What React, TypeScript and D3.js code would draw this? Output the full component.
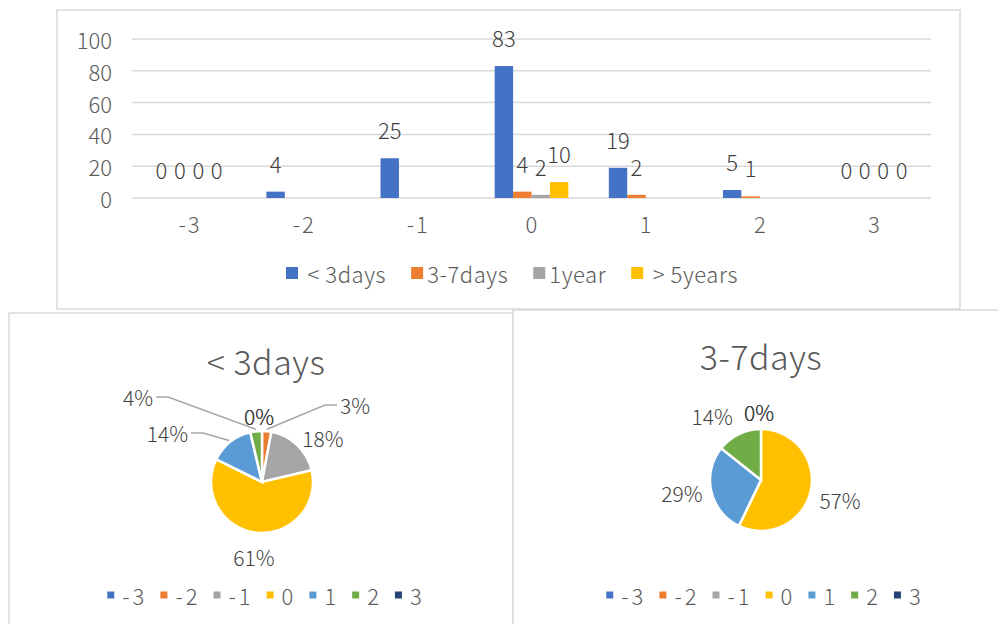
import * as d3 from 'd3'
import React, { useRef, useEffect } from 'react'

const categories = ['-3', '-2', '-1', '0', '1', '2', '3']
const seriesNames = [' < 3days', '3-7days', '1year', ' > 5years']
const lessThan3Days = [0, 4, 25, 83, 19, 5, 0]
const days3To7 = [0, null, null, 4, 2, 1, 0]
const oneYear = [0, null, null, 2, null, null, 0]
const over5Years = [0, null, null, 10, null, null, 0]
const yTicks = [0, 20, 40, 60, 80, 100]

const barColors = ['#4472C4', '#ED7D31', '#A5A5A5', '#FFC000']
const pieColors = ['#4472C4', '#ED7D31', '#A5A5A5', '#FFC000', '#5B9BD5', '#70AD47', '#264478']

const FONT = "'Noto Sans CJK SC', 'Noto Sans', sans-serif"
const GRID = '#d9d9d9'
const AXIS_TEXT = '#595959'
const LABEL_TEXT = '#404040'

// label nudges / leader elbows for the pies (layout only)
const leftPieNudges = [[-3, 12], [0, 0], [7, 12], [1, -2], [0, 0], [0, 0], [-3, 12]]
const leftPieLeaders = [null, [63, -77], null, null, [-59, -49], [-94, -85], null]
const rightPieNudges = [[-2, 10], [0, 0], [0, 0], [3, 3], [-3, -4], [-15, 6], [-2, 10]]
const rightPieLeaders = [null, null, null, null, null, null, null]

type Val = number | null

function drawBars(g: any) {
    const series: Val[][] = [lessThan3Days, days3To7, oneYear, over5Years]
    const x = d3.scaleBand().domain(categories).range([132, 931])
    const groupW = x.bandwidth() * 4 / (4 + 2.2)
    const xs = d3.scaleBand<number>().domain(d3.range(4))
        .range([(x.bandwidth() - groupW) / 2, (x.bandwidth() + groupW) / 2])
    const y = d3.scaleLinear().domain([0, 100]).range([198, 39])

    g.selectAll('line.grid').data(yTicks).enter().append('line')
        .attr('class', 'grid')
        .attr('x1', 132).attr('x2', 931)
        .attr('y1', d => y(d)).attr('y2', d => y(d))
        .attr('stroke', GRID).attr('stroke-width', 1.5)

    g.selectAll('text.ytick').data(yTicks).enter().append('text')
        .attr('class', 'ytick')
        .attr('x', 112).attr('y', d => y(d))
        .attr('text-anchor', 'end').attr('dominant-baseline', 'central')
        .attr('fill', AXIS_TEXT).style('font-size', '22px')
        .text(d => d)

    g.selectAll('text.xtick').data(categories).enter().append('text')
        .attr('class', 'xtick')
        .attr('x', d => x(d)! + x.bandwidth() / 2 + 1).attr('y', 223)
        .attr('text-anchor', 'middle').attr('dominant-baseline', 'central')
        .attr('fill', AXIS_TEXT).style('font-size', '22px').style('letter-spacing', '2px')
        .text(d => d)

    series.forEach((vals, si) => {
        const pts = vals.map((v, i) => ({ v, c: categories[i] })).filter(d => d.v !== null) as { v: number, c: string }[]
        g.selectAll(`rect.s${si}`).data(pts).enter().append('rect')
            .attr('class', `s${si}`)
            .attr('x', d => x(d.c)! + xs(si)!)
            .attr('width', xs.bandwidth())
            .attr('y', d => y(d.v))
            .attr('height', d => y(0) - y(d.v))
            .attr('fill', barColors[si])
        g.selectAll(`text.l${si}`).data(pts).enter().append('text')
            .attr('class', `l${si}`)
            .attr('x', d => x(d.c)! + xs(si)! + xs.bandwidth() / 2)
            .attr('y', d => y(d.v) - 29)
            .attr('text-anchor', 'middle').attr('dominant-baseline', 'central')
            .attr('fill', LABEL_TEXT).style('font-size', '22px')
            .text(d => d.v)
    })

    // legend
    const leg = g.append('g')
    let cursor = 0
    seriesNames.forEach((name, i) => {
        const item = leg.append('g').attr('transform', `translate(${cursor},0)`)
        item.append('rect').attr('x', 0).attr('y', -6).attr('width', 12).attr('height', 12).attr('fill', barColors[i])
        const t = item.append('text').attr('x', 16).attr('y', 0)
            .attr('dominant-baseline', 'central').attr('fill', AXIS_TEXT)
            .style('font-size', '22px').style('white-space', 'pre').style('letter-spacing', '0.6px')
            .text(name)
        cursor += 16 + (t.node() as SVGTextElement).getComputedTextLength() + 25
    })
    const legW = cursor - 25
    leg.attr('transform', `translate(${512 - legW / 2},273)`)
}

function drawPie(g: any, values: Val[], title: string, opts: any) {
    const { cx, cy, titleY, legendY, nudges, leaders } = opts
    const r = 51
    const total = d3.sum(values, d => d ?? 0)
    const pie = d3.pie<Val>().value(d => d ?? 0).sort(null)
    const arcs = pie(values)
    const arc = d3.arc<any>().innerRadius(0).outerRadius(r)

    g.append('text').attr('x', cx).attr('y', titleY)
        .attr('text-anchor', 'middle').attr('dominant-baseline', 'central')
        .attr('fill', AXIS_TEXT).style('font-size', '34px').style('white-space', 'pre')
        .style('letter-spacing', '0.5px')
        .text(title)

    const pg = g.append('g').attr('transform', `translate(${cx},${cy})`)
    pg.selectAll('path').data(arcs.filter(a => (a.data ?? 0) > 0)).enter().append('path')
        .attr('d', arc)
        .attr('fill', (d: any) => pieColors[d.index])
        .attr('stroke', '#fff').attr('stroke-width', 2.5)

    arcs.forEach((a, i) => {
        if (values[i] === null) return
        const pct = Math.round((values[i] as number) / total * 100) + '%'
        const mid = (a.startAngle + a.endAngle) / 2
        const sx = Math.sin(mid), sy = -Math.cos(mid)
        const lead = leaders[i]
        if (lead) {
            const side = lead[0] >= 0 ? 1 : -1
            const end = [lead[0] + side * 12, lead[1]]
            pg.append('polyline')
                .attr('points', [[sx * (r + 2), sy * (r + 2)], lead, end].map(p => p.join(',')).join(' '))
                .attr('fill', 'none').attr('stroke', '#a6a6a6').attr('stroke-width', 1.5)
            pg.append('text').attr('x', end[0] + side * 3).attr('y', end[1])
                .attr('text-anchor', side > 0 ? 'start' : 'end').attr('dominant-baseline', 'central')
                .attr('fill', LABEL_TEXT).style('font-size', '21px')
                .text(pct)
        } else {
            const n = nudges[i]
            pg.append('text').attr('x', sx * 78 + n[0]).attr('y', sy * 78 + n[1])
                .attr('text-anchor', 'middle').attr('dominant-baseline', 'central')
                .attr('fill', LABEL_TEXT).style('font-size', '21px')
                .text(pct)
        }
    })

    const leg = g.append('g')
    let cursor = 0
    categories.forEach((c, i) => {
        const item = leg.append('g').attr('transform', `translate(${cursor},0)`)
        item.append('rect').attr('x', 0).attr('y', -3.5).attr('width', 7).attr('height', 7).attr('fill', pieColors[i])
        const t = item.append('text').attr('x', 15).attr('y', 0)
            .attr('dominant-baseline', 'central').attr('fill', AXIS_TEXT)
            .style('font-size', '22px').style('letter-spacing', '3px')
            .text(c)
        cursor += 15 + (t.node() as SVGTextElement).getComputedTextLength() + 13
    })
    const legW = cursor - 13
    leg.attr('transform', `translate(${cx + 4 - legW / 2},${legendY})`)
}

export default function App() {
    const ref = useRef<SVGGElement>(null)

    useEffect(() => {
        const root = d3.select(ref.current)
        root.selectAll('*').remove()
        const bars = root.append('g')
        drawBars(bars)
        const left = root.append('g')
        drawPie(left, lessThan3Days, seriesNames[0], {
            cx: 262, cy: 482, titleY: 360, legendY: 595,
            nudges: leftPieNudges, leaders: leftPieLeaders,
        })
        const right = root.append('g')
        drawPie(right, days3To7, seriesNames[1], {
            cx: 761, cy: 480, titleY: 355, legendY: 595,
            nudges: rightPieNudges, leaders: rightPieLeaders,
        })
    }, [])

    return (
        <div style={{ position: 'absolute', left: 0, top: 0 }}>
            <svg width={998} height={624} style={{ display: 'block', fontFamily: FONT, fontWeight: 300 }}>
                <rect width={998} height={624} fill="#fff" />
                <rect x={57} y={10} width={903} height={299} fill="#fff" stroke={GRID} strokeWidth={1.5} />
                <rect x={9} y={313} width={504} height={330} fill="#fff" stroke={GRID} strokeWidth={1.5} />
                <rect x={513} y={310} width={500} height={330} fill="#fff" stroke={GRID} strokeWidth={1.5} />
                <g ref={ref} />
            </svg>
        </div>
    )
}
